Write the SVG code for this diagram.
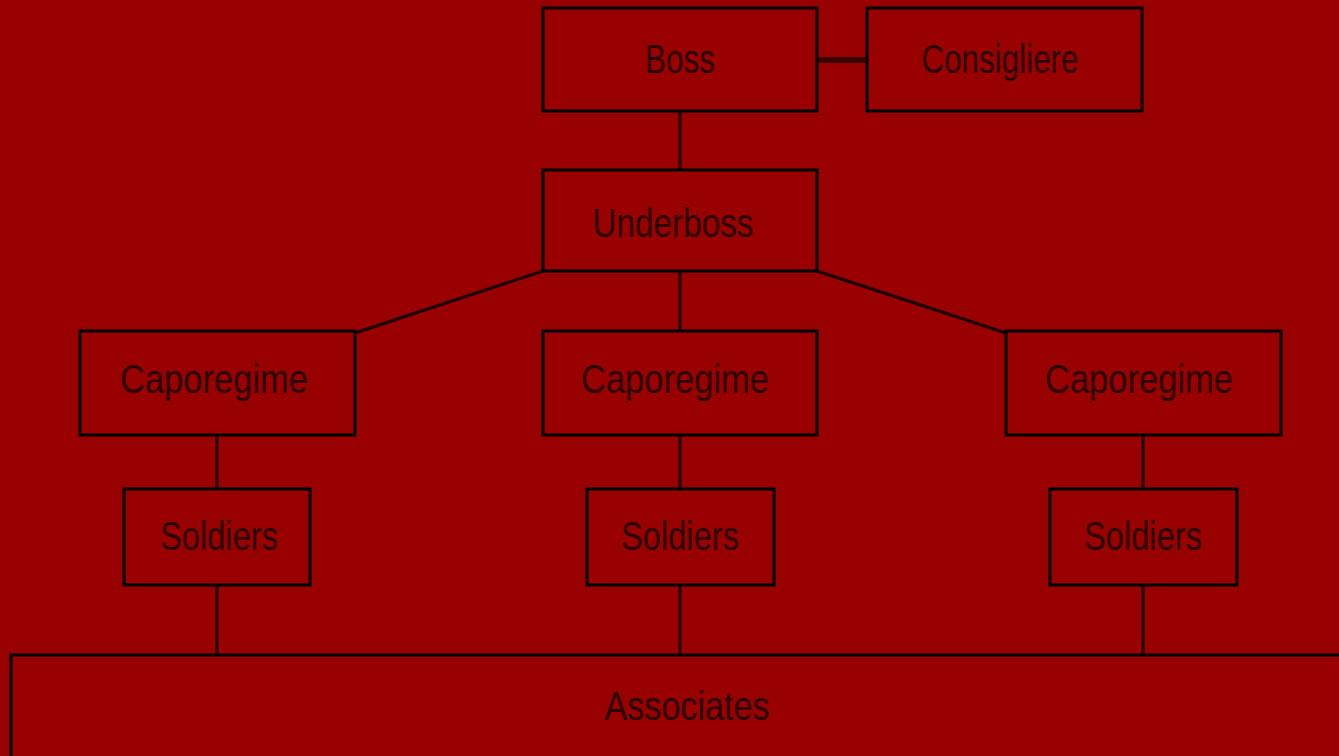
<svg xmlns="http://www.w3.org/2000/svg" width="1339" height="756" viewBox="0 0 1339 756">
<style>
.box{fill:#990000;stroke:#000;stroke-width:3}
.sh{fill:none;stroke:#660000;stroke-width:3}
.lbl{font-family:"Liberation Sans",Arial,sans-serif;font-size:40px;fill:#2a0000;text-anchor:middle}
.ln{stroke:#1a0000;stroke-width:3;fill:none}
</style>
<rect x="0" y="0" width="1339" height="756" fill="#990000"/>
<g id="connectors">
<line class="ln" x1="817" y1="60" x2="867" y2="60" stroke-width="6" style="stroke:#3a0000;stroke-width:6"/>
<line class="ln" x1="680" y1="111" x2="680" y2="170"/>
<line class="ln" x1="543" y1="271" x2="355" y2="333"/>
<line class="ln" x1="680" y1="271" x2="680" y2="331"/>
<line class="ln" x1="817" y1="271" x2="1006" y2="333"/>
<line class="ln" x1="217" y1="435" x2="217" y2="489"/>
<line class="ln" x1="680" y1="435" x2="680" y2="489"/>
<line class="ln" x1="1143" y1="435" x2="1143" y2="489"/>
<line class="ln" x1="217" y1="585" x2="217" y2="655"/>
<line class="ln" x1="680" y1="585" x2="680" y2="655"/>
<line class="ln" x1="1143" y1="585" x2="1143" y2="655"/>
</g>
<g id="boss"><rect class="box" x="543" y="8" width="274" height="103"/><text class="lbl" x="680" y="73" textLength="70" lengthAdjust="spacingAndGlyphs">Boss</text></g>
<g id="consigliere"><rect class="box" x="867" y="8" width="275" height="103"/><text class="lbl" x="1000" y="73" textLength="157" lengthAdjust="spacingAndGlyphs">Consigliere</text></g>
<g id="underboss"><rect class="box" x="543" y="170" width="274" height="101"/><text class="lbl" x="673" y="237" textLength="161" lengthAdjust="spacingAndGlyphs">Underboss</text></g>
<g id="capo1"><rect class="box" x="80" y="331" width="275" height="104"/><text class="lbl" x="214" y="393" textLength="188" lengthAdjust="spacingAndGlyphs">Caporegime</text></g>
<g id="capo2"><rect class="box" x="543" y="331" width="274" height="104"/><text class="lbl" x="675" y="393" textLength="188" lengthAdjust="spacingAndGlyphs">Caporegime</text></g>
<g id="capo3"><rect class="box" x="1006" y="331" width="275" height="104"/><text class="lbl" x="1139" y="393" textLength="188" lengthAdjust="spacingAndGlyphs">Caporegime</text></g>
<g id="soldiers1"><rect class="box" x="124" y="489" width="186" height="96"/><text class="lbl" x="219" y="550" textLength="118" lengthAdjust="spacingAndGlyphs">Soldiers</text></g>
<g id="soldiers2"><rect class="box" x="587" y="489" width="187" height="96"/><text class="lbl" x="680" y="550" textLength="118" lengthAdjust="spacingAndGlyphs">Soldiers</text></g>
<g id="soldiers3"><rect class="box" x="1050" y="489" width="187" height="96"/><text class="lbl" x="1143" y="550" textLength="118" lengthAdjust="spacingAndGlyphs">Soldiers</text></g>
<g id="associates"><rect class="box" x="11" y="655" width="1340" height="110"/><text class="lbl" x="687" y="720" textLength="165" lengthAdjust="spacingAndGlyphs">Associates</text></g>
</svg>
